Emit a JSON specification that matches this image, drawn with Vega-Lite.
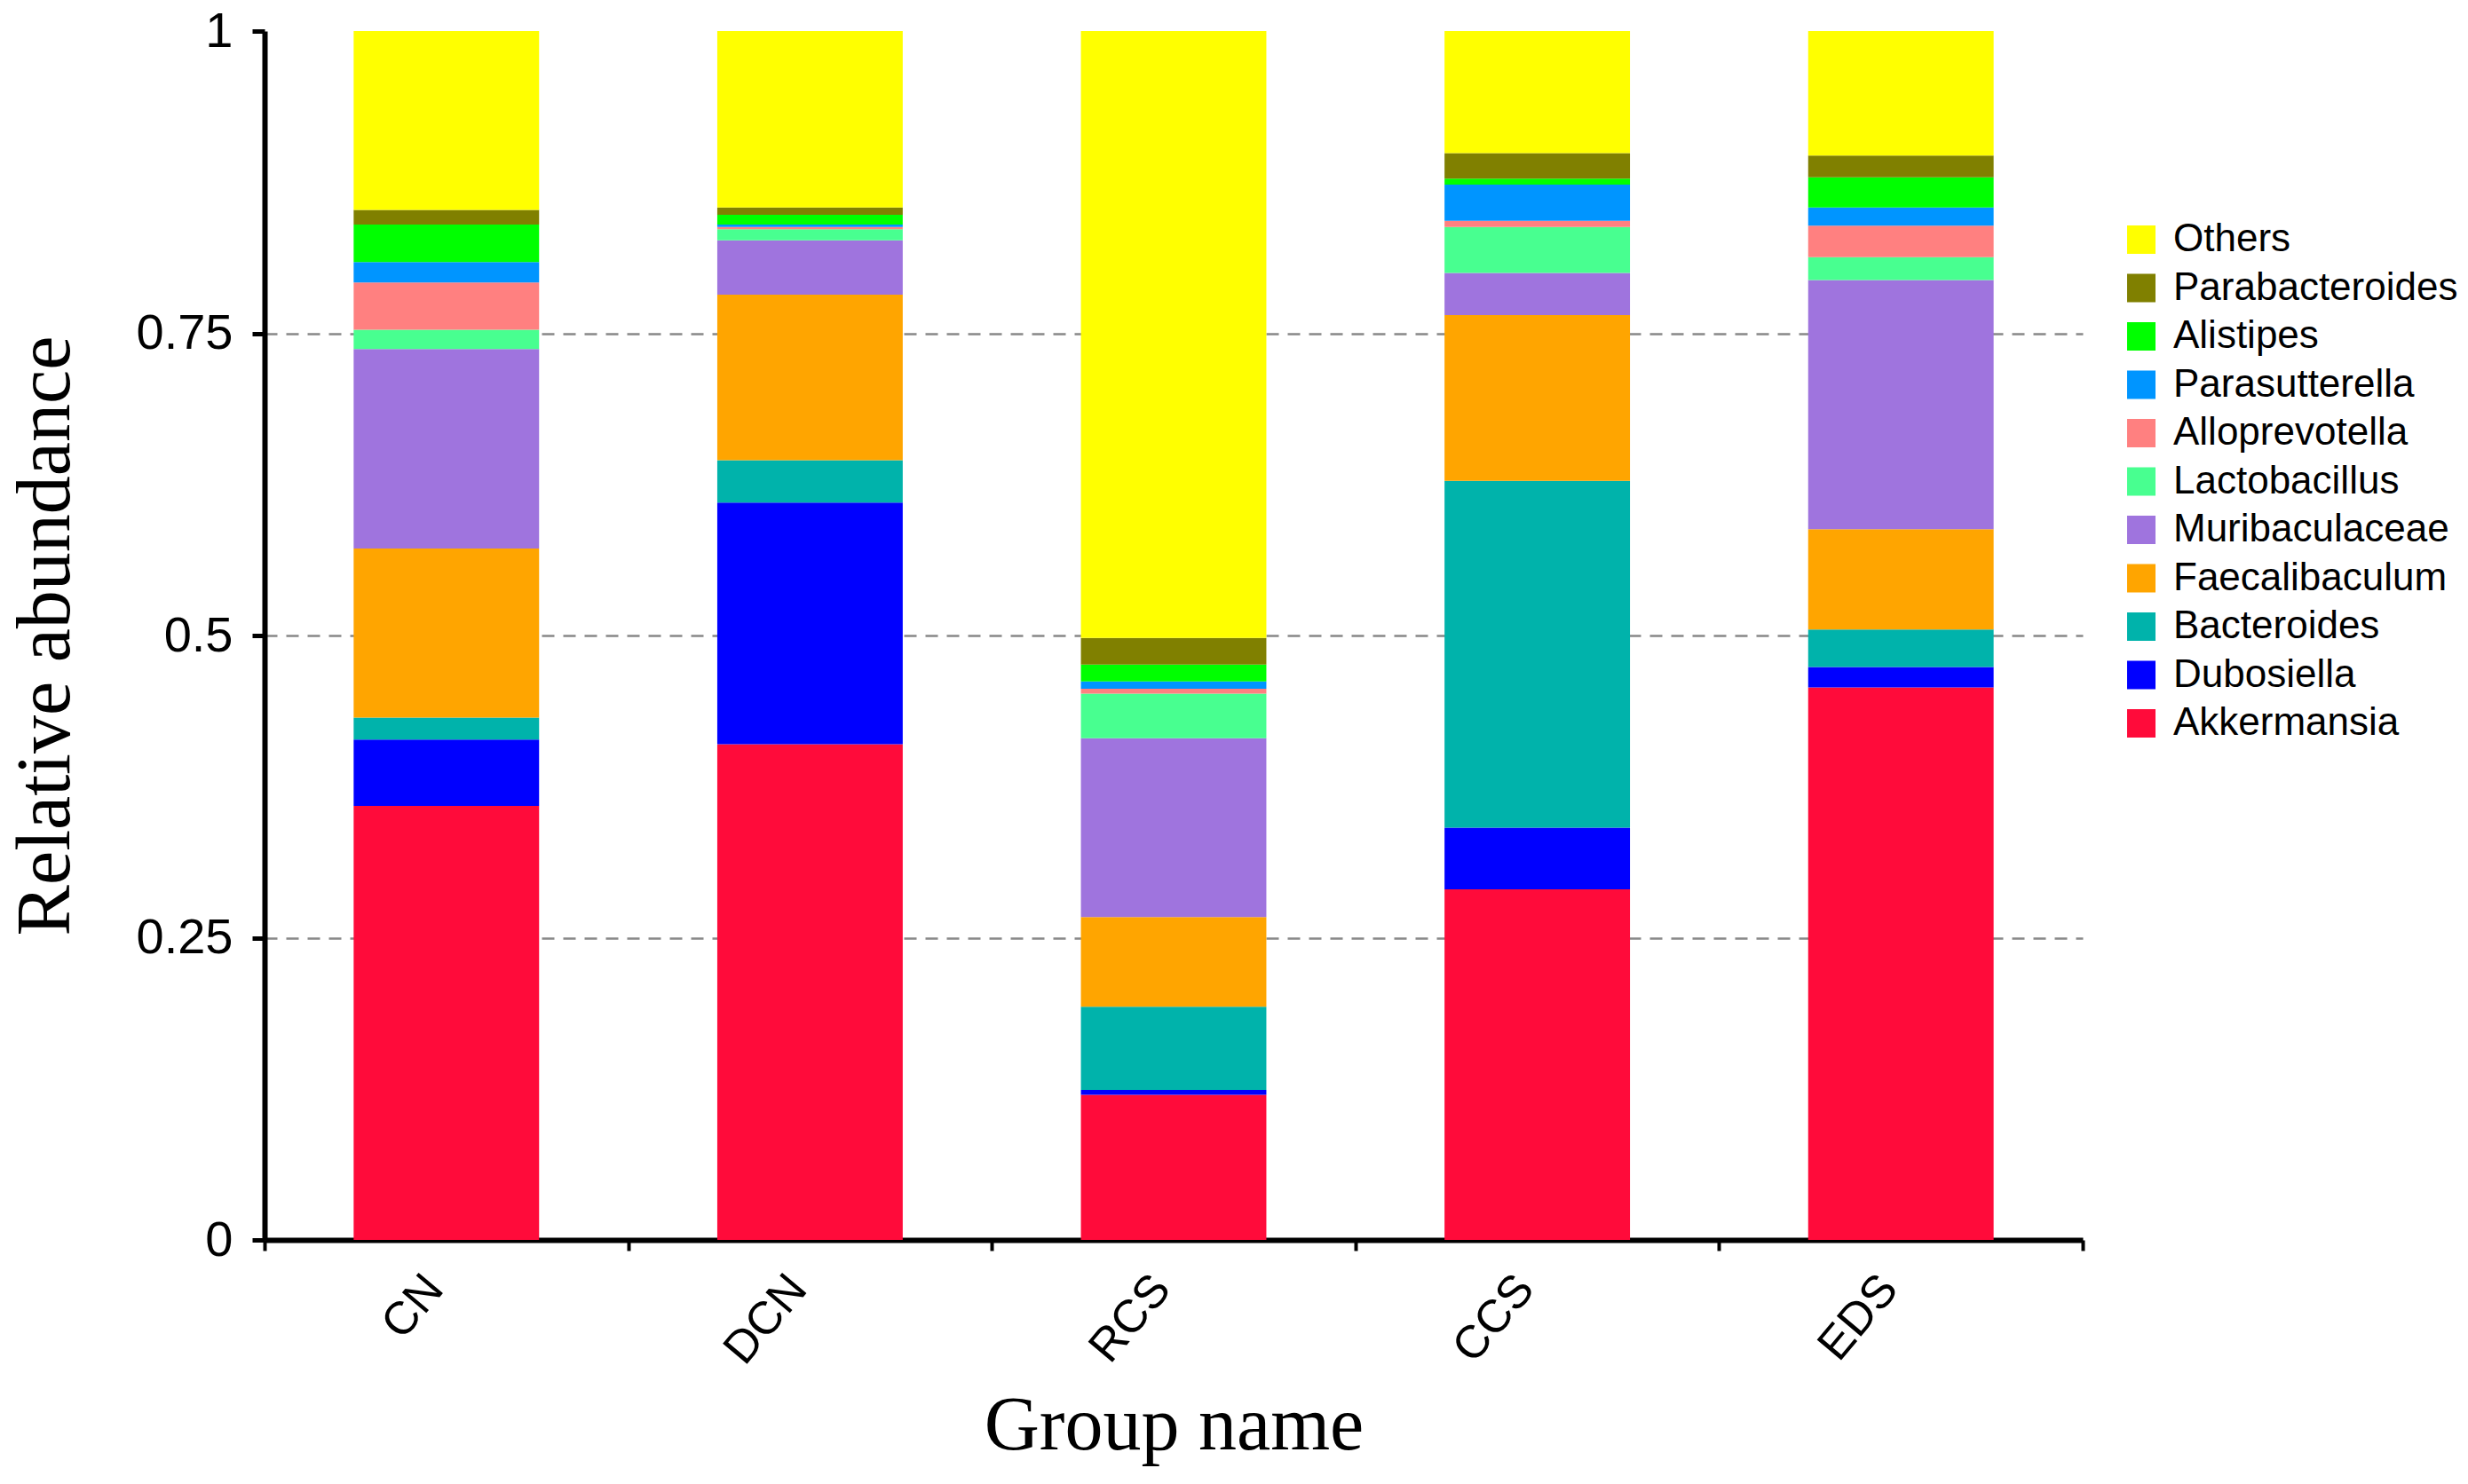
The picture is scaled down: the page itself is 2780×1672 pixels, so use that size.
{
  "$schema": "https://vega.github.io/schema/vega-lite/v6.json",
  "width": 2048,
  "height": 1362,
  "autosize": {"type": "none"},
  "padding": {"left": 298, "top": 35, "right": 434, "bottom": 275},
  "background": "white",
  "data": {
    "values": [
      {"group": "CN", "taxon": "Akkermansia", "value": 0.359},
      {"group": "CN", "taxon": "Dubosiella", "value": 0.055},
      {"group": "CN", "taxon": "Bacteroides", "value": 0.018},
      {"group": "CN", "taxon": "Faecalibaculum", "value": 0.140},
      {"group": "CN", "taxon": "Muribaculaceae", "value": 0.165},
      {"group": "CN", "taxon": "Lactobacillus", "value": 0.016},
      {"group": "CN", "taxon": "Alloprevotella", "value": 0.039},
      {"group": "CN", "taxon": "Parasutterella", "value": 0.017},
      {"group": "CN", "taxon": "Alistipes", "value": 0.031},
      {"group": "CN", "taxon": "Parabacteroides", "value": 0.012},
      {"group": "CN", "taxon": "Others", "value": 0.148},
      {"group": "DCN", "taxon": "Akkermansia", "value": 0.410},
      {"group": "DCN", "taxon": "Dubosiella", "value": 0.200},
      {"group": "DCN", "taxon": "Bacteroides", "value": 0.035},
      {"group": "DCN", "taxon": "Faecalibaculum", "value": 0.137},
      {"group": "DCN", "taxon": "Muribaculaceae", "value": 0.045},
      {"group": "DCN", "taxon": "Lactobacillus", "value": 0.009},
      {"group": "DCN", "taxon": "Alloprevotella", "value": 0.002},
      {"group": "DCN", "taxon": "Parasutterella", "value": 0.002},
      {"group": "DCN", "taxon": "Alistipes", "value": 0.008},
      {"group": "DCN", "taxon": "Parabacteroides", "value": 0.006},
      {"group": "DCN", "taxon": "Others", "value": 0.146},
      {"group": "RCS", "taxon": "Akkermansia", "value": 0.120},
      {"group": "RCS", "taxon": "Dubosiella", "value": 0.004},
      {"group": "RCS", "taxon": "Bacteroides", "value": 0.069},
      {"group": "RCS", "taxon": "Faecalibaculum", "value": 0.074},
      {"group": "RCS", "taxon": "Muribaculaceae", "value": 0.148},
      {"group": "RCS", "taxon": "Lactobacillus", "value": 0.037},
      {"group": "RCS", "taxon": "Alloprevotella", "value": 0.004},
      {"group": "RCS", "taxon": "Parasutterella", "value": 0.006},
      {"group": "RCS", "taxon": "Alistipes", "value": 0.014},
      {"group": "RCS", "taxon": "Parabacteroides", "value": 0.022},
      {"group": "RCS", "taxon": "Others", "value": 0.502},
      {"group": "CCS", "taxon": "Akkermansia", "value": 0.290},
      {"group": "CCS", "taxon": "Dubosiella", "value": 0.051},
      {"group": "CCS", "taxon": "Bacteroides", "value": 0.287},
      {"group": "CCS", "taxon": "Faecalibaculum", "value": 0.137},
      {"group": "CCS", "taxon": "Muribaculaceae", "value": 0.035},
      {"group": "CCS", "taxon": "Lactobacillus", "value": 0.038},
      {"group": "CCS", "taxon": "Alloprevotella", "value": 0.005},
      {"group": "CCS", "taxon": "Parasutterella", "value": 0.030},
      {"group": "CCS", "taxon": "Alistipes", "value": 0.005},
      {"group": "CCS", "taxon": "Parabacteroides", "value": 0.021},
      {"group": "CCS", "taxon": "Others", "value": 0.101},
      {"group": "EDS", "taxon": "Akkermansia", "value": 0.457},
      {"group": "EDS", "taxon": "Dubosiella", "value": 0.017},
      {"group": "EDS", "taxon": "Bacteroides", "value": 0.031},
      {"group": "EDS", "taxon": "Faecalibaculum", "value": 0.083},
      {"group": "EDS", "taxon": "Muribaculaceae", "value": 0.206},
      {"group": "EDS", "taxon": "Lactobacillus", "value": 0.019},
      {"group": "EDS", "taxon": "Alloprevotella", "value": 0.026},
      {"group": "EDS", "taxon": "Parasutterella", "value": 0.015},
      {"group": "EDS", "taxon": "Alistipes", "value": 0.025},
      {"group": "EDS", "taxon": "Parabacteroides", "value": 0.018},
      {"group": "EDS", "taxon": "Others", "value": 0.103}
    ]
  },
  "transform": [
    {"calculate": "indexof(['Akkermansia','Dubosiella','Bacteroides','Faecalibaculum','Muribaculaceae','Lactobacillus','Alloprevotella','Parasutterella','Alistipes','Parabacteroides','Others'], datum.taxon)", "as": "stackRank"}
  ],
  "mark": {"type": "bar", "width": {"band": 0.51}},
  "encoding": {
    "x": {
      "field": "group",
      "type": "nominal",
      "sort": ["CN", "DCN", "RCS", "CCS", "EDS"],
      "scale": {"paddingInner": 0, "paddingOuter": 0},
      "axis": {
        "title": "Group name",
        "tickBand": "extent",
        "labelAngle": -50,
        "labelFont": "Liberation Sans",
        "labelFontSize": 52,
        "labelColor": "black",
        "labelPadding": 34,
        "labelOffset": -14,
        "domainColor": "black",
        "domainWidth": 6,
        "tickColor": "black",
        "tickWidth": 4,
        "tickSize": 12,
        "titleFont": "Liberation Serif",
        "titleFontSize": 86,
        "titleFontWeight": "normal",
        "titleColor": "black",
        "titlePadding": 18
      }
    },
    "y": {
      "field": "value",
      "type": "quantitative",
      "stack": "zero",
      "scale": {"domain": [0, 1], "nice": false},
      "axis": {
        "title": "Relative abundance",
        "values": [0, 0.25, 0.5, 0.75, 1],
        "format": ".2~f",
        "grid": true,
        "gridDash": [14, 10],
        "gridColor": "#888888",
        "gridWidth": 2.5,
        "gridOpacity": {"condition": {"test": "datum.value == 0 || datum.value == 1", "value": 0}, "value": 1},
        "labelFont": "Liberation Sans",
        "labelFontSize": 56,
        "labelColor": "black",
        "labelPadding": 22,
        "domainColor": "black",
        "domainWidth": 6,
        "tickColor": "black",
        "tickWidth": 5,
        "tickSize": 14,
        "titleFont": "Liberation Serif",
        "titleFontSize": 86,
        "titleFontWeight": "normal",
        "titleColor": "black",
        "titlePadding": 58
      }
    },
    "color": {
      "field": "taxon",
      "type": "nominal",
      "scale": {
        "domain": ["Others", "Parabacteroides", "Alistipes", "Parasutterella", "Alloprevotella", "Lactobacillus", "Muribaculaceae", "Faecalibaculum", "Bacteroides", "Dubosiella", "Akkermansia"],
        "range": ["#FFFF00", "#808000", "#00FF00", "#0095FF", "#FF8080", "#48FF90", "#9F74DE", "#FFA500", "#00B3AB", "#0000FF", "#FF0B3A"]
      },
      "legend": {
        "title": null,
        "orient": "none",
        "legendX": 2092,
        "legendY": 213,
        "padding": 0,
        "symbolType": "square",
        "symbolSize": 1024,
        "symbolStrokeWidth": 0,
        "labelFont": "Liberation Sans",
        "labelFontSize": 44,
        "labelColor": "black",
        "labelLimit": 0,
        "labelOffset": 14,
        "rowPadding": 10.5
      }
    },
    "order": {"field": "stackRank", "type": "quantitative", "sort": "ascending"}
  },
  "config": {"view": {"stroke": null}}
}
